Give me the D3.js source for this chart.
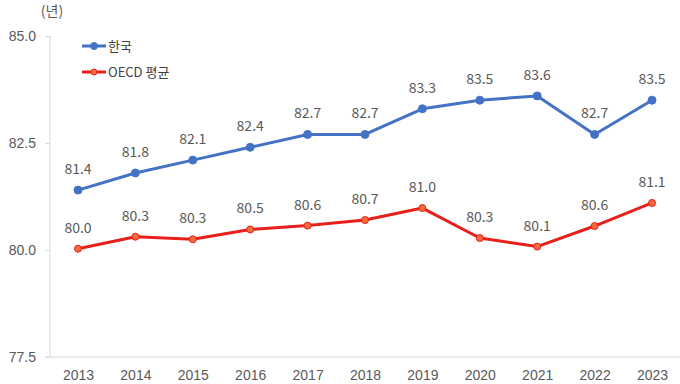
<!DOCTYPE html>
<html>
<head>
<meta charset="UTF-8">
<script src="https://cdnjs.cloudflare.com/ajax/libs/d3/7.8.5/d3.min.js"></script>
<style>
html, body { margin: 0; padding: 0; background: #fff; }
svg { display: block; font-family: 'Noto Sans CJK KR', 'Noto Sans', sans-serif; }
</style>
</head>
<body>
<script>
// 기대수명 추이
var years = ["2013","2014","2015","2016","2017","2018","2019","2020","2021","2022","2023"];
var korea = [81.4, 81.8, 82.1, 82.4, 82.7, 82.7, 83.3, 83.5, 83.6, 82.7, 83.5];
var oecd  = [80.03, 80.31, 80.25, 80.48, 80.57, 80.7, 80.98, 80.28, 80.08, 80.56, 81.1];
var yTicks = [77.5, 80.0, 82.5, 85.0];
var seriesNames = ["한국", "OECD 평균"];

var width = 680, height = 384;

var svg = d3.select("body").append("svg")
    .attr("width", width)
    .attr("height", height);

var x = d3.scalePoint()
    .domain(years)
    .range([78, 652]);

var y = d3.scaleLinear()
    .domain([77.5, 85])
    .range([357, 36]);

// axes
var yAxis = svg.append("g")
    .attr("transform", "translate(50,0)")
    .call(d3.axisLeft(y).tickValues(yTicks).tickSize(5).tickFormat(d3.format(".1f")));
yAxis.select(".domain").attr("stroke", "#d9d9d9").attr("d", "M0,36V357");
yAxis.selectAll(".tick line").attr("stroke", "#d9d9d9");
yAxis.selectAll(".tick text")
    .attr("x", -14)
    .attr("fill", "#595959")
    .style("font-size", "14px");

var xAxis = svg.append("g")
    .attr("transform", "translate(0,357)")
    .call(d3.axisBottom(x).tickSize(0).tickPadding(13));
xAxis.select(".domain").attr("stroke", "#d9d9d9").attr("d", "M45,0H680");
xAxis.selectAll(".tick text")
    .attr("fill", "#595959")
    .style("font-size", "14px");

svg.append("text")
    .attr("x", 52).attr("y", 16)
    .attr("text-anchor", "middle")
    .attr("fill", "#595959")
    .style("font-size", "14px")
    .text("(년)");

var line = d3.line()
    .x(function(d, i) { return x(years[i]); })
    .y(function(d) { return y(d); });

var series = [
    {name: seriesNames[0], values: korea, stroke: "#4472c4", fill: "#4472c4", r: 4},
    {name: seriesNames[1], values: oecd, stroke: "#e8201c", fill: "#f26b3a", r: 3.5}
];

series.forEach(function(s) {
    var g = svg.append("g");
    g.append("path")
        .datum(s.values)
        .attr("fill", "none")
        .attr("stroke", s.stroke)
        .attr("stroke-width", 3)
        .attr("stroke-linejoin", "round")
        .attr("d", line);
    g.selectAll("circle")
        .data(s.values)
        .enter().append("circle")
        .attr("cx", function(d, i) { return x(years[i]); })
        .attr("cy", function(d) { return y(d); })
        .attr("r", s.r)
        .attr("fill", s.fill)
        .attr("stroke", s.stroke)
        .attr("stroke-width", 1);
    g.selectAll("text")
        .data(s.values)
        .enter().append("text")
        .attr("x", function(d, i) { return x(years[i]); })
        .attr("y", function(d) { return y(d) - 16; })
        .attr("text-anchor", "middle")
        .attr("fill", "#595959")
        .style("font-size", "14px")
        .text(function(d) { return d.toFixed(1); });
});

// legend
var legend = svg.append("g");
series.forEach(function(s, i) {
    var ly = 46 + i * 26;
    legend.append("line")
        .attr("x1", 82).attr("x2", 106)
        .attr("y1", ly).attr("y2", ly)
        .attr("stroke", s.stroke)
        .attr("stroke-width", 3);
    legend.append("circle")
        .attr("cx", 94).attr("cy", ly)
        .attr("r", s.r - 0.5)
        .attr("fill", s.fill)
        .attr("stroke", s.stroke);
    legend.append("text")
        .attr("x", 108).attr("y", ly + 5)
        .attr("fill", "#404040")
        .style("font-size", "13px")
        .text(s.name);
});
</script>
</body>
</html>
